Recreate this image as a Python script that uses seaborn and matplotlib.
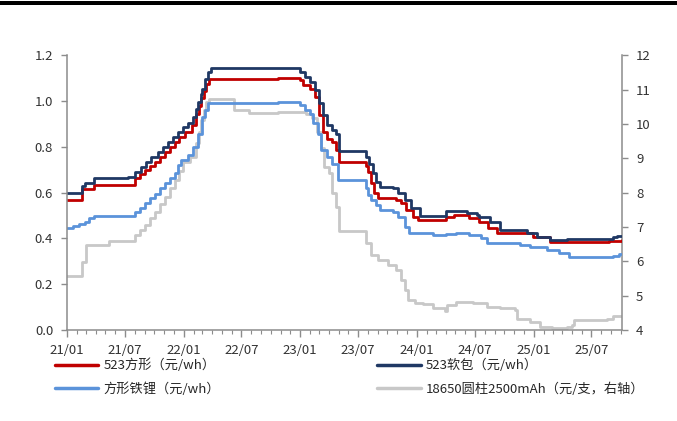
import pandas as pd
import matplotlib
matplotlib.use("Agg")
import matplotlib.pyplot as plt
import matplotlib.dates as mdates
from matplotlib.lines import Line2D
from matplotlib.patches import Rectangle
import seaborn as sns


# 523软包 (元/wh)
soft_dates = [
    "2021-01-01", "2021-02-16", "2021-02-26", "2021-03-27", "2021-07-10",
    "2021-08-01", "2021-08-21", "2021-09-05", "2021-09-22", "2021-10-12",
    "2021-10-28", "2021-11-13", "2021-11-28", "2021-12-14", "2021-12-30",
    "2022-01-15", "2022-01-31", "2022-02-10", "2022-02-15", "2022-02-25",
    "2022-03-01", "2022-03-10", "2022-03-17", "2022-03-27", "2022-10-22",
    "2022-12-31", "2023-01-15", "2023-02-01", "2023-02-16", "2023-03-01",
    "2023-03-12", "2023-03-27", "2023-04-12", "2023-04-23", "2023-05-03",
    "2023-07-25", "2023-08-05", "2023-08-16", "2023-08-26", "2023-09-07",
    "2023-10-18", "2023-11-03", "2023-11-24", "2023-12-14", "2024-01-10",
    "2024-04-03", "2024-06-05", "2024-07-06", "2024-07-15", "2024-08-16",
    "2024-09-17", "2024-12-10", "2025-01-11", "2025-02-21", "2025-04-14",
    "2025-09-05", "2025-09-18", "2025-10-03",
]
soft_values = [
    0.598, 0.630, 0.640, 0.665, 0.669,
    0.691, 0.713, 0.735, 0.756, 0.778,
    0.800, 0.822, 0.843, 0.865, 0.885,
    0.902, 0.931, 0.965, 0.996, 1.030,
    1.054, 1.095, 1.127, 1.142, 1.145,
    1.127, 1.105, 1.083, 1.047, 0.989,
    0.938, 0.894, 0.873, 0.858, 0.782,
    0.755, 0.727, 0.684, 0.647, 0.625,
    0.618, 0.597, 0.567, 0.531, 0.500,
    0.519, 0.512, 0.502, 0.494, 0.473,
    0.436, 0.423, 0.407, 0.393, 0.397,
    0.407, 0.410, 0.410,
]

# 523方形 (元/wh)
square_dates = [
    "2021-01-01", "2021-02-16", "2021-03-27", "2021-08-01", "2021-08-16",
    "2021-09-01", "2021-09-17", "2021-10-02", "2021-10-18", "2021-11-03",
    "2021-11-18", "2021-12-04", "2021-12-19", "2022-01-05", "2022-01-26",
    "2022-02-10", "2022-02-18", "2022-02-25", "2022-03-05", "2022-03-12",
    "2022-03-22", "2022-10-22", "2022-12-31", "2023-01-10", "2023-02-01",
    "2023-02-16", "2023-03-01", "2023-03-12", "2023-03-27", "2023-04-12",
    "2023-04-23", "2023-05-03", "2023-07-25", "2023-08-01", "2023-08-11",
    "2023-08-21", "2023-09-01", "2023-10-29", "2023-11-14", "2023-11-29",
    "2023-12-20", "2024-01-05", "2024-04-03", "2024-04-28", "2024-06-14",
    "2024-07-15", "2024-08-10", "2024-09-08", "2024-12-29", "2025-02-21",
    "2025-08-26", "2025-10-03",
]
square_values = [
    0.567, 0.614, 0.633, 0.662, 0.680,
    0.698, 0.716, 0.734, 0.756, 0.778,
    0.800, 0.822, 0.843, 0.865, 0.894,
    0.945, 0.978, 1.011, 1.045, 1.076,
    1.094, 1.100, 1.091, 1.069, 1.054,
    1.018, 0.938, 0.865, 0.836, 0.822,
    0.785, 0.732, 0.715, 0.691, 0.640,
    0.597, 0.575, 0.567, 0.553, 0.524,
    0.494, 0.480, 0.494, 0.502, 0.487,
    0.473, 0.444, 0.422, 0.407, 0.385,
    0.390, 0.393,
]

# 方形铁锂 (元/wh)
lfp_dates = [
    "2021-01-01", "2021-01-20", "2021-02-06", "2021-02-27", "2021-03-12",
    "2021-03-27", "2021-08-01", "2021-08-16", "2021-09-01", "2021-09-17",
    "2021-10-02", "2021-10-18", "2021-11-03", "2021-11-18", "2021-12-04",
    "2021-12-14", "2021-12-25", "2022-01-15", "2022-01-31", "2022-02-15",
    "2022-03-01", "2022-03-10", "2022-03-17", "2022-10-22", "2022-12-31",
    "2023-01-15", "2023-02-01", "2023-02-11", "2023-02-26", "2023-03-07",
    "2023-03-27", "2023-04-12", "2023-04-28", "2023-07-25", "2023-08-01",
    "2023-08-11", "2023-08-26", "2023-09-07", "2023-10-18", "2023-11-03",
    "2023-11-24", "2023-12-09", "2024-02-20", "2024-04-03", "2024-05-04",
    "2024-06-14", "2024-07-20", "2024-08-07", "2024-11-18", "2024-12-19",
    "2025-02-12", "2025-03-22", "2025-04-23", "2025-06-15", "2025-07-01",
    "2025-09-05", "2025-09-25", "2025-10-03",
]
lfp_values = [
    0.444, 0.454, 0.465, 0.473, 0.487,
    0.499, 0.516, 0.533, 0.553, 0.575,
    0.596, 0.618, 0.640, 0.662, 0.684,
    0.720, 0.742, 0.764, 0.800, 0.858,
    0.931, 0.962, 0.989, 0.995, 0.982,
    0.960, 0.945, 0.902, 0.858, 0.785,
    0.756, 0.727, 0.654, 0.620, 0.589,
    0.567, 0.545, 0.524, 0.516, 0.494,
    0.451, 0.425, 0.417, 0.420, 0.425,
    0.414, 0.400, 0.381, 0.370, 0.363,
    0.349, 0.335, 0.320, 0.317, 0.320,
    0.324, 0.330, 0.330,
]

# 18650圆柱2500mAh (元/支, 右轴)
cyl_dates = [
    "2021-01-01", "2021-02-16", "2021-03-02", "2021-05-13", "2021-08-01",
    "2021-08-16", "2021-09-01", "2021-09-17", "2021-10-02", "2021-10-18",
    "2021-11-03", "2021-11-18", "2021-12-04", "2021-12-19", "2021-12-30",
    "2022-01-20", "2022-02-10", "2022-02-18", "2022-02-25", "2022-03-05",
    "2022-03-12", "2022-03-22", "2022-06-09", "2022-07-25", "2022-10-22",
    "2023-01-20", "2023-02-06", "2023-02-22", "2023-03-07", "2023-03-17",
    "2023-04-02", "2023-04-12", "2023-04-23", "2023-05-03", "2023-07-25",
    "2023-08-11", "2023-09-01", "2023-10-02", "2023-10-29", "2023-11-14",
    "2023-11-24", "2023-12-04", "2023-12-25", "2024-01-19", "2024-02-20",
    "2024-03-28", "2024-04-06", "2024-05-04", "2024-06-24", "2024-08-07",
    "2024-09-17", "2024-11-03", "2024-11-09", "2024-12-19", "2025-01-20",
    "2025-02-28", "2025-04-14", "2025-05-02", "2025-05-08", "2025-08-17",
    "2025-09-05", "2025-10-03",
]
cyl_values = [
    5.57, 5.99, 6.47, 6.59, 6.76,
    6.90, 7.05, 7.25, 7.44, 7.66,
    7.88, 8.12, 8.36, 8.62, 8.90,
    9.04, 9.43, 9.75, 10.11, 10.40,
    10.64, 10.71, 10.40, 10.32, 10.35,
    10.30, 10.16, 9.77, 9.29, 8.75,
    8.56, 7.98, 7.59, 6.88, 6.52,
    6.18, 6.04, 5.89, 5.75, 5.45,
    5.16, 4.87, 4.79, 4.76, 4.63,
    4.56, 4.73, 4.82, 4.78, 4.68,
    4.63, 4.58, 4.31, 4.24, 4.10,
    4.05, 4.08, 4.15, 4.29, 4.31,
    4.40, 4.40,
]

labels = ["523方形（元/wh）", "523软包（元/wh）", "方形铁锂（元/wh）",
          "18650圆柱2500mAh（元/支，右轴）"]
colors = ["#C00000", "#1F3864", "#5B93DA", "#C8C8C8"]

left_ticks = [0.0, 0.2, 0.4, 0.6, 0.8, 1.0, 1.2]
right_ticks = [4, 5, 6, 7, 8, 9, 10, 11, 12]


sns.set_theme(style="white")
plt.rcParams["font.family"] = ["Noto Sans CJK SC", "DejaVu Sans"]

fig = plt.figure(figsize=(6.77, 4.21), dpi=100)
ax = fig.add_axes([0.099, 0.216, 0.820, 0.653])
ax2 = ax.twinx()

series = [
    (square_dates, square_values, colors[0], ax),
    (soft_dates, soft_values, colors[1], ax),
    (lfp_dates, lfp_values, colors[2], ax),
]
for dates, values, color, target in series:
    df = pd.DataFrame({"date": pd.to_datetime(dates), "value": values})
    sns.lineplot(data=df, x="date", y="value", ax=target, color=color,
                 linewidth=2.0, drawstyle="steps-post", estimator=None,
                 legend=False)

cyl_df = pd.DataFrame({"date": pd.to_datetime(cyl_dates), "value": cyl_values})
sns.lineplot(data=cyl_df, x="date", y="value", ax=ax2, color=colors[3],
             linewidth=2.0, drawstyle="steps-post", estimator=None,
             legend=False)
ax.set_zorder(ax2.get_zorder() + 1)
ax.patch.set_visible(False)

spine_color = "#8C8C8C"
ax.set_xlim(pd.Timestamp("2021-01-01"), pd.Timestamp("2025-10-05"))
ax.set_ylim(0, 1.2)
ax2.set_ylim(4, 12)
ax.set_yticks(left_ticks)
ax.set_yticklabels([f"{t:.1f}" for t in left_ticks])
ax2.set_yticks(right_ticks)
ax2.set_yticklabels([str(t) for t in right_ticks])

ax.xaxis.set_major_locator(mdates.MonthLocator(bymonth=[1, 7]))
ax.xaxis.set_major_formatter(mdates.DateFormatter("%y/%m"))
ax.xaxis.set_minor_locator(mdates.MonthLocator())

for a in (ax, ax2):
    a.set_xlabel("")
    a.set_ylabel("")
    a.grid(False)
    for side in ("left", "right", "bottom"):
        a.spines[side].set_color(spine_color)
        a.spines[side].set_linewidth(1.1)
    a.spines["top"].set_visible(False)

ax.spines["right"].set_visible(False)
ax2.spines["left"].set_visible(False)
ax2.spines["bottom"].set_visible(False)

ax.tick_params(axis="x", which="major", direction="out", length=5, width=1,
               color=spine_color, labelsize=9.5, labelcolor="#333333", pad=5,
               bottom=True)
ax.tick_params(axis="x", which="minor", direction="out", length=3, width=0.8,
               color=spine_color, bottom=True)
ax.tick_params(axis="y", direction="out", length=4, width=1, color=spine_color,
               labelsize=9.5, labelcolor="#333333", pad=6, left=True)
ax2.tick_params(axis="y", direction="out", length=4, width=1, color=spine_color,
                labelsize=9.5, labelcolor="#333333", pad=6, right=True)

handles = [Line2D([0], [0], color=c, linewidth=2.5) for c in colors]
order = [0, 2, 1, 3]
fig.legend([handles[i] for i in order], [labels[i] for i in order],
           loc="upper left", bbox_to_anchor=(0.081, 0.148), ncol=2,
           frameon=False, fontsize=9.5, handlelength=3.3, handletextpad=0.4,
           columnspacing=11.9, labelspacing=0.75, borderpad=0,
           borderaxespad=0)

fig.add_artist(Rectangle((0, 1 - 5 / 421), 1, 4 / 421, transform=fig.transFigure,
                         color="black", linewidth=0))

fig.savefig("out.png", dpi=100)
